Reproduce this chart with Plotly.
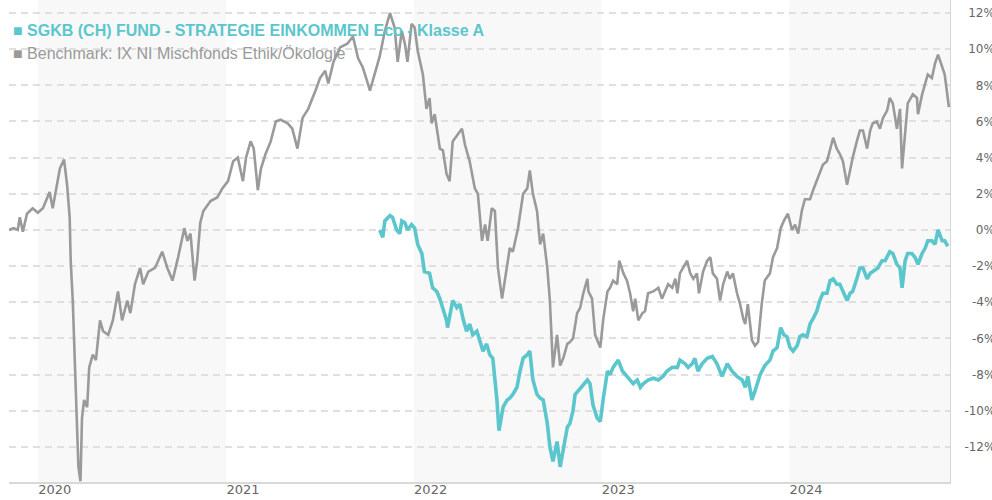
import plotly.graph_objects as go

# ---------------- data ----------------
bench_dates = [
    "2019-11-06", "2019-11-15", "2019-11-23", "2019-11-27", "2019-12-03", "2019-12-11", "2019-12-22",
    "2020-01-01", "2020-01-11", "2020-01-24", "2020-01-30", "2020-02-07", "2020-02-13", "2020-02-21",
    "2020-02-27", "2020-03-03", "2020-03-05", "2020-03-09", "2020-03-13", "2020-03-17", "2020-03-20",
    "2020-03-24", "2020-03-27", "2020-03-31", "2020-04-06", "2020-04-10", "2020-04-17", "2020-04-23",
    "2020-05-01", "2020-05-07", "2020-05-17", "2020-05-26", "2020-06-05", "2020-06-13", "2020-06-23",
    "2020-06-29", "2020-07-08", "2020-07-18", "2020-07-24", "2020-08-03", "2020-08-16", "2020-08-30",
    "2020-09-09", "2020-09-19", "2020-09-30", "2020-10-12", "2020-10-18", "2020-10-24", "2020-11-01",
    "2020-11-06", "2020-11-12", "2020-11-18", "2020-12-02", "2020-12-15", "2020-12-25",
    "2021-01-05", "2021-01-15", "2021-01-24", "2021-02-03", "2021-02-09", "2021-02-18", "2021-02-24",
    "2021-03-04", "2021-03-10", "2021-03-19", "2021-03-29", "2021-04-08", "2021-04-17", "2021-05-01",
    "2021-05-10", "2021-05-20", "2021-05-30", "2021-06-10", "2021-06-24", "2021-07-03", "2021-07-13",
    "2021-07-19", "2021-07-29", "2021-08-11", "2021-08-25", "2021-09-05", "2021-09-15", "2021-09-24",
    "2021-10-04", "2021-10-08", "2021-10-18", "2021-10-27", "2021-11-06", "2021-11-16", "2021-11-25",
    "2021-12-01", "2021-12-09", "2021-12-15", "2021-12-20", "2021-12-28",
    "2022-01-03", "2022-01-09", "2022-01-19", "2022-01-26", "2022-02-01", "2022-02-05", "2022-02-11",
    "2022-02-21", "2022-02-27", "2022-03-06", "2022-03-12", "2022-03-18", "2022-03-28", "2022-04-05",
    "2022-04-11", "2022-04-20", "2022-04-30", "2022-05-06", "2022-05-14", "2022-05-20", "2022-05-25",
    "2022-06-02", "2022-06-08", "2022-06-14", "2022-06-22", "2022-06-28", "2022-07-07", "2022-07-13",
    "2022-07-23", "2022-08-02", "2022-08-10", "2022-08-15", "2022-08-21", "2022-08-29", "2022-09-04",
    "2022-09-10", "2022-09-18", "2022-09-23", "2022-09-29", "2022-10-07", "2022-10-13", "2022-10-19",
    "2022-10-27", "2022-11-01", "2022-11-07", "2022-11-15", "2022-11-21", "2022-11-27", "2022-12-05",
    "2022-12-07", "2022-12-14", "2022-12-20", "2022-12-30",
    "2023-01-05", "2023-01-13", "2023-01-18", "2023-01-24", "2023-02-01", "2023-02-05", "2023-02-13",
    "2023-02-20", "2023-02-26", "2023-03-04", "2023-03-08", "2023-03-14", "2023-03-22", "2023-03-27",
    "2023-04-02", "2023-04-12", "2023-04-22", "2023-04-29", "2023-05-05", "2023-05-11", "2023-05-19",
    "2023-05-25", "2023-05-29", "2023-06-03", "2023-06-09", "2023-06-17", "2023-06-23", "2023-06-29",
    "2023-07-06", "2023-07-10", "2023-07-18", "2023-07-26", "2023-08-01", "2023-08-06", "2023-08-14",
    "2023-08-20", "2023-08-26", "2023-09-03", "2023-09-08", "2023-09-14", "2023-09-22", "2023-09-28",
    "2023-10-04", "2023-10-08", "2023-10-13", "2023-10-21", "2023-10-27", "2023-11-02", "2023-11-09",
    "2023-11-15", "2023-11-25", "2023-12-01", "2023-12-09", "2023-12-16", "2023-12-22", "2023-12-30",
    "2024-01-07", "2024-01-13", "2024-01-19", "2024-01-26", "2024-02-01", "2024-02-11", "2024-02-17",
    "2024-02-24", "2024-03-01", "2024-03-07", "2024-03-15", "2024-03-21", "2024-03-27", "2024-04-03",
    "2024-04-09", "2024-04-15", "2024-04-23", "2024-04-29", "2024-05-04", "2024-05-12", "2024-05-18",
    "2024-05-24", "2024-06-01", "2024-06-07", "2024-06-12", "2024-06-20", "2024-06-26", "2024-07-02",
    "2024-07-10", "2024-07-15", "2024-07-21", "2024-07-29", "2024-08-04", "2024-08-08", "2024-08-14",
    "2024-08-19", "2024-08-29", "2024-09-06", "2024-09-08", "2024-09-16", "2024-09-22", "2024-09-27",
    "2024-10-05", "2024-10-11", "2024-10-17", "2024-10-25", "2024-10-30", "2024-11-03", "2024-11-07",
]
bench_values = [
    0.0, 0.1, 0.0, 0.7, -0.1, 0.9, 1.2,
    0.95, 1.2, 2.1, 1.2, 2.6, 3.4, 3.9,
    2.5, 0.7, -1.7, -3.9, -7.6, -11.3, -13.1,
    -13.9, -10.4, -9.4, -9.8, -7.6, -6.9, -7.2,
    -5.0, -5.6, -5.8, -5.0, -3.4, -5.0, -3.9,
    -4.6, -3.0, -2.1, -3.0, -2.3, -2.1, -1.2,
    -2.1, -2.8, -1.5, 0.1, -0.6, -0.2, -2.8,
    -1.7, 0.4, 1.05, 1.6, 1.8, 2.3,
    2.7, 3.8, 4.0, 2.7, 4.0, 4.9, 4.5,
    2.2, 3.4, 4.2, 4.9, 6.0, 6.1, 5.9,
    5.6, 4.5, 6.2, 6.7, 7.7, 8.4, 8.8,
    8.1, 9.3, 10.1, 10.3, 10.7, 9.5, 9.0,
    8.1, 7.7, 8.7, 9.6, 11.0, 12.0, 11.2,
    9.3, 11.0, 10.3, 9.3, 11.4,
    11.2, 9.9, 8.6, 6.7, 7.3, 5.9, 6.4,
    4.5, 4.4, 3.1, 2.7, 4.9, 5.3, 5.6,
    4.7, 3.8, 2.3, 2.0, -0.6, 0.3, -0.6,
    1.2, 1.05, -2.1, -3.8, -2.7, -1.0, -1.2,
    0.1, 2.0, 2.3, 3.3, 2.0, 1.05, -0.8,
    -0.2, -2.1, -3.9, -7.6, -5.8, -7.5, -7.1,
    -6.3, -6.2, -6.0, -4.6, -4.3, -3.5, -2.7,
    -3.4, -3.8, -5.8, -6.5,
    -4.9, -3.4, -3.2, -2.8, -3.0, -1.7, -2.4,
    -2.8, -3.5, -4.5, -3.8, -5.0, -4.6, -4.5,
    -3.5, -3.4, -3.2, -3.8, -3.4, -3.0, -3.2,
    -2.7, -3.5, -2.4, -2.1, -1.7, -2.4, -2.7,
    -2.4, -3.5, -2.3, -1.7, -1.5, -2.4, -2.7,
    -3.9, -3.0, -2.3, -2.7, -2.4, -3.5, -4.1,
    -4.9, -5.2, -4.1, -6.1, -6.4, -6.2, -4.1,
    -2.8, -2.4, -1.5, -1.0, 0.1, 0.5, 0.9,
    0.0, 0.3, -0.2, 1.05, 1.7, 1.7, 2.2,
    2.7, 3.1, 3.6, 3.8, 4.4, 5.1, 4.5,
    4.2, 3.8, 2.5, 3.3, 4.0, 4.9, 5.5,
    5.5, 4.5, 5.5, 5.9, 6.0, 5.6, 6.2,
    6.6, 7.3, 7.0, 5.6, 6.7, 3.4, 5.5,
    7.0, 7.5, 7.3, 6.4, 7.5, 8.1, 8.6,
    8.4, 9.2, 9.7, 9.0, 8.6, 7.7, 6.8,
]

fund_dates = [
    "2021-10-27", "2021-11-02", "2021-11-06", "2021-11-16", "2021-11-21", "2021-11-29", "2021-12-05",
    "2021-12-09", "2021-12-15", "2021-12-20", "2021-12-28",
    "2022-01-03", "2022-01-09", "2022-01-17", "2022-01-22", "2022-02-01", "2022-02-07", "2022-02-15",
    "2022-02-21", "2022-02-27", "2022-03-06", "2022-03-08", "2022-03-18", "2022-03-26", "2022-04-01",
    "2022-04-07", "2022-04-14", "2022-04-20", "2022-04-26", "2022-05-04", "2022-05-10", "2022-05-16",
    "2022-05-23", "2022-05-29", "2022-06-04", "2022-06-12", "2022-06-16", "2022-06-24", "2022-07-02",
    "2022-07-07", "2022-07-13", "2022-07-21", "2022-07-27", "2022-08-02", "2022-08-10", "2022-08-15",
    "2022-08-21", "2022-08-29", "2022-09-04", "2022-09-10", "2022-09-18", "2022-09-23", "2022-09-29",
    "2022-10-07", "2022-10-13", "2022-10-19", "2022-10-27", "2022-11-01", "2022-11-07", "2022-11-11",
    "2022-11-17", "2022-11-27", "2022-12-05", "2022-12-10", "2022-12-16", "2022-12-24", "2022-12-30",
    "2023-01-05", "2023-01-13", "2023-01-18", "2023-01-24", "2023-02-03", "2023-02-11", "2023-02-20",
    "2023-02-26", "2023-03-04", "2023-03-12", "2023-03-18", "2023-03-24", "2023-04-02", "2023-04-12",
    "2023-04-22", "2023-05-01", "2023-05-09", "2023-05-19", "2023-05-29", "2023-06-03", "2023-06-13",
    "2023-06-19", "2023-06-27", "2023-07-02", "2023-07-08", "2023-07-16", "2023-07-26", "2023-08-05",
    "2023-08-14", "2023-08-24", "2023-09-03", "2023-09-12", "2023-09-22", "2023-10-02", "2023-10-08",
    "2023-10-13", "2023-10-21", "2023-10-27", "2023-11-06", "2023-11-15", "2023-11-25", "2023-12-01",
    "2023-12-09", "2023-12-16", "2023-12-22", "2023-12-28",
    "2024-01-03", "2024-01-09", "2024-01-17", "2024-01-22", "2024-01-28", "2024-02-05", "2024-02-11",
    "2024-02-17", "2024-02-24", "2024-03-01", "2024-03-07", "2024-03-15", "2024-03-21", "2024-03-27",
    "2024-04-03", "2024-04-09", "2024-04-15", "2024-04-23", "2024-04-29", "2024-05-04", "2024-05-12",
    "2024-05-18", "2024-05-24", "2024-06-01", "2024-06-07", "2024-06-12", "2024-06-22", "2024-06-30",
    "2024-07-06", "2024-07-15", "2024-07-21", "2024-07-29", "2024-08-04", "2024-08-08", "2024-08-14",
    "2024-08-19", "2024-08-27", "2024-09-02", "2024-09-08", "2024-09-16", "2024-09-22", "2024-09-27",
    "2024-10-05", "2024-10-11", "2024-10-17", "2024-10-25", "2024-10-30", "2024-11-05",
]
fund_values = [
    0.0, -0.4, 0.5, 0.8, 0.7, 0.0, -0.2,
    0.5, 0.4, 0.0, 0.3,
    0.1, -0.8, -1.3, -2.3, -2.4, -3.2, -3.4,
    -3.8, -4.3, -5.0, -5.4, -3.9, -4.3, -4.1,
    -4.9, -5.6, -5.2, -5.8, -5.6, -6.1, -6.7,
    -6.3, -6.9, -7.1, -9.4, -11.1, -9.8, -9.4,
    -9.3, -9.1, -8.7, -7.8, -7.1, -6.9, -6.7,
    -8.3, -9.1, -9.3, -9.4, -10.7, -12.0, -12.8,
    -11.7, -13.1, -12.1, -10.9, -10.7, -10.0, -9.1,
    -8.9, -8.5, -8.3, -8.5, -9.7, -10.4, -10.6,
    -9.3, -7.8, -8.0, -7.6, -7.2, -7.8, -8.1,
    -8.3, -8.5, -8.3, -8.7, -8.5, -8.3, -8.2,
    -8.3, -8.1, -7.8, -7.6, -7.6, -7.2, -7.4,
    -7.6, -7.4, -7.1, -7.8, -7.4, -7.1, -7.0,
    -7.4, -8.1, -7.4, -7.8, -8.1, -8.3, -8.7,
    -8.1, -9.4, -8.9, -8.0, -7.5, -7.2, -6.7,
    -6.5, -5.4, -5.8, -5.9,
    -6.5, -6.7, -6.4, -5.9, -5.8, -5.9, -5.2,
    -4.9, -4.5, -3.9, -3.5, -3.5, -2.8, -2.7,
    -3.0, -3.0, -3.4, -3.9, -3.5, -3.4, -2.7,
    -2.1, -2.1, -2.7, -2.4, -2.3, -2.1, -1.7,
    -1.7, -1.2, -1.3, -1.9, -2.1, -3.2, -1.7,
    -1.3, -1.3, -1.5, -1.9, -1.3, -1.0, -0.6,
    -0.6, -0.8, 0.0, -0.6, -0.6, -0.9,
]

fund_name = "SGKB (CH) FUND - STRATEGIE EINKOMMEN Eco - Klasse A"
bench_name = "Benchmark: IX NI Mischfonds Ethik/Ökologie"

year_ticks = ["2020-01-01", "2021-01-01", "2022-01-01", "2023-01-01", "2024-01-01"]
year_labels = ["2020", "2021", "2022", "2023", "2024"]
band_starts = ["2020-01-01", "2022-01-01", "2024-01-01"]
band_ends = ["2021-01-01", "2023-01-01", "2024-11-10"]

y_ticks = [12, 10, 8, 6, 4, 2, 0, -2, -4, -6, -8, -10, -12]
PS, FS = "\u2008", "\u2007"  # punctuation space (~minus width), figure space (digit width)
y_labels = [
    PS + "12%", PS + "10%", PS + FS + "8%", PS + FS + "6%", PS + FS + "4%", PS + FS + "2%",
    PS + FS + "0%", FS + "-2%", FS + "-4%", FS + "-6%", FS + "-8%", "-10%", "-12%",
]

TEAL = "#5cc6cd"
GRAY = "#9a9a9a"

fig = go.Figure()
fig.add_trace(go.Scatter(x=bench_dates, y=bench_values, mode="lines", name=bench_name,
                         line=dict(color=GRAY, width=2.6), showlegend=False, hoverinfo="skip"))
fig.add_trace(go.Scatter(x=fund_dates, y=fund_values, mode="lines", name=fund_name,
                         line=dict(color=TEAL, width=3.6), showlegend=False, hoverinfo="skip"))

for s, e in zip(band_starts, band_ends):
    fig.add_shape(type="rect", xref="x", yref="paper", x0=s, x1=e, y0=0, y1=1,
                  fillcolor="#f8f8f8", line=dict(width=0), layer="below")

fig.add_annotation(xref="paper", yref="paper", x=0, y=0.9357, xshift=2, xanchor="left", yanchor="middle",
                   text="<b>\u25a0 " + fund_name + "</b>", showarrow=False,
                   font=dict(family="Liberation Sans, Arial", size=16, color=TEAL))
fig.add_annotation(xref="paper", yref="paper", x=0, y=0.888, xshift=2, xanchor="left", yanchor="middle",
                   text="\u25a0 " + bench_name, showarrow=False,
                   font=dict(family="Liberation Sans, Arial", size=16, color=GRAY))

fig.update_layout(
    width=992, height=500,
    margin=dict(l=9, r=42, t=0, b=18, autoexpand=False),
    paper_bgcolor="white", plot_bgcolor="white",
    showlegend=False,
    xaxis=dict(
        type="date", range=["2019-11-06", "2024-11-09 06:00"],
        tickmode="array", tickvals=year_ticks, ticktext=year_labels,
        showgrid=False, zeroline=False, ticks="",
        showline=True, linecolor="#d9d9d9", linewidth=2,
        tickfont=dict(family="DejaVu Sans", size=13, color="#666666"),
        ticklabelshift=17, ticklabelstandoff=-6,
    ),
    yaxis=dict(
        side="right", range=[-13.94, 12.72],
        tickmode="array", tickvals=y_ticks, ticktext=y_labels,
        showgrid=True, gridcolor="#e0e0e0", gridwidth=1.5, griddash="7px,5px",
        zeroline=False, ticks="",
        showline=True, linecolor="#d6d6d6", linewidth=1,
        tickfont=dict(family="DejaVu Sans", size=12, color="#666666"),
        ticklabelstandoff=11, ticklabeloverflow="allow",
    ),
)

# remove the browser's default 8px page margin so the 992x500 figure fills the window exactly
fig.write_html("out.html", config={"displayModeBar": False},
               post_script="document.body.style.margin='0';document.body.style.overflow='hidden';")
